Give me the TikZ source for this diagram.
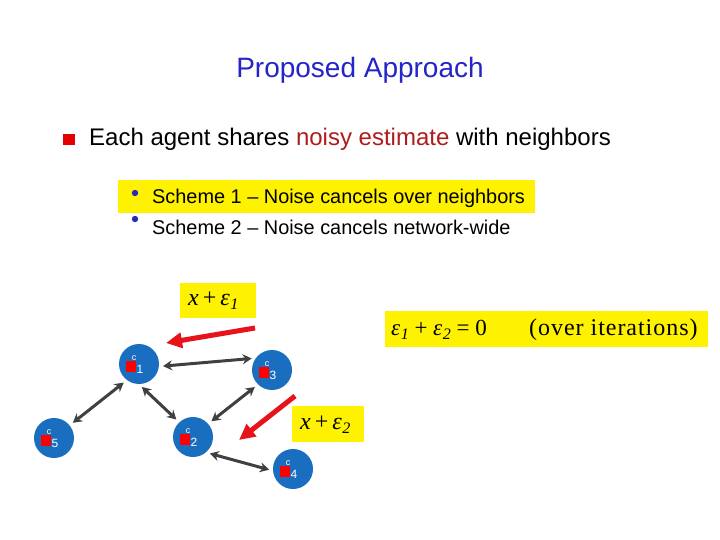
\documentclass[tikz,border=0pt]{standalone}
\usepackage{fontspec}
\setmainfont{Liberation Sans}
\newfontfamily\tms{Liberation Serif}
\usetikzlibrary{arrows.meta,calc}
\definecolor{ttlblue}{RGB}{36,36,200}
\definecolor{nodeblue}{RGB}{26,110,192}
\definecolor{darkred}{RGB}{176,28,28}
\definecolor{arrred}{RGB}{230,20,26}
\definecolor{arrgray}{RGB}{64,64,64}
\definecolor{dotblue}{RGB}{40,40,190}
\tikzset{
  agent/.style={circle,fill=nodeblue,minimum size=40pt,inner sep=0pt},
  link/.style={draw=arrgray,line width=3pt,{Stealth[length=9pt,width=10pt]}-{Stealth[length=9pt,width=10pt]},shorten >=4pt,shorten <=4pt},
  msg/.style={draw=arrred,line width=5pt,-{Triangle[length=16pt,width=15pt]}},
}
\newcommand{\eps}[1]{\textit{ε\kern0.5pt\raisebox{-0.35ex}{\fontsize{16}{16}\selectfont #1}}}
\begin{document}
\begin{tikzpicture}[x=1pt,y=-1pt]
\useasboundingbox (0,0) rectangle (720,540);
\fill[white] (0,0) rectangle (720,540);
% title
\node[text=ttlblue,font=\fontsize{28}{32}\selectfont] (title) at (360,70) {Proposed Approach};
% main bullet
\fill[red!90!black] (63,134) rectangle (75,145);
\node[anchor=west,font=\fontsize{24}{28}\selectfont,inner sep=0pt] (b1) at (89,139)
  {Each agent shares \textcolor{darkred}{noisy estimate} with neighbors};
% sub bullets
\fill[yellow] (118,180) rectangle (535,213);
\fill[dotblue] (135,193) circle (3.2pt);
\fill[dotblue] (135,219) circle (3.2pt);
\node[anchor=west,font=\fontsize{19.9}{22}\selectfont,inner sep=0pt] (s1) at (152,198)
  {Scheme 1 -- Noise cancels over neighbors};
\node[anchor=west,font=\fontsize{19.9}{22}\selectfont,inner sep=0pt] (s2) at (152,227)
  {Scheme 2 -- Noise cancels network-wide};
% yellow labels
\fill[yellow] (180,283) rectangle (256,318);
\node[anchor=west,font=\tms\fontsize{24}{26}\selectfont,inner sep=0pt] (l1) at (188,301)
  {\textit{x}\,+\,\eps{1}};
\fill[yellow] (292,406) rectangle (364,442);
\node[anchor=west,font=\tms\fontsize{24}{26}\selectfont,inner sep=0pt] (l2) at (300,425)
  {\textit{x}\,+\,\eps{2}};
\fill[yellow] (385,311) rectangle (708,347);
\node[anchor=west,font=\tms\fontsize{23}{24}\selectfont,inner sep=0pt] (eq) at (391,330)
  {\eps{1} + \eps{2} = 0};
\node[anchor=west,font=\tms\fontsize{24}{26}\addfontfeature{LetterSpace=4}\selectfont,inner sep=0pt] (it) at (529,330)
  {(over iterations)};
% agents
\node[agent] (n1) at (139,364) {};
\node[agent] (n3) at (272,370) {};
\node[agent] (n5) at (54,438) {};
\node[agent] (n2) at (193,437) {};
\node[agent] (n4) at (293,469) {};
\foreach \n/\d in {n1/1,n3/3,n5/5,n2/2,n4/4}{
  \node[text=white,font=\fontsize{12}{12}\selectfont,inner sep=0pt] (\n t) at ($(\n)+(1,5)$) {\d};
  \node[text=white,font=\fontsize{9}{9}\selectfont,inner sep=0pt] (\n c) at ($(\n)+(-5,-6)$) {c};
  \fill[red] ($(\n)+(-13,-3)$) rectangle ($(\n)+(-3,8)$);
}
% links
\draw[link] (n1.-7) -- (n3.144);
\draw[link] (n5.39) -- (n1.233);
\draw[link] (n1.-90) -- (n2.133);
\draw[link] (n3.226) -- (n2.41);
\draw[link] (n2.-50) -- (n4.185);
% message arrows
\coordinate (m1s) at (255,328);
\coordinate (m1e) at (166,343);
\coordinate (m2s) at (295,396);
\coordinate (m2e) at (239,440);
\draw[msg] (m1s) -- (m1e);
\draw[msg] (m2s) -- (m2e);
\end{tikzpicture}
\end{document}
